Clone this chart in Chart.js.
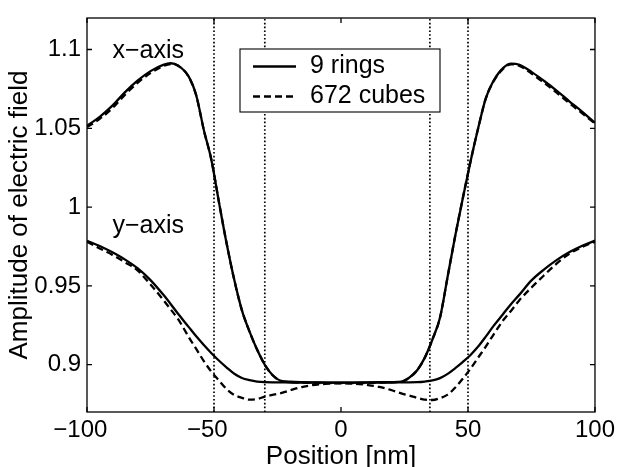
<!DOCTYPE html>
<html><head><meta charset="utf-8">
<script src="https://cdn.jsdelivr.net/npm/chart.js@4/dist/chart.umd.min.js"></script>
<style>html,body{margin:0;padding:0;background:#fff;}#wrap{width:621px;height:467px;}</style>
</head><body><div id="wrap"><canvas id="c" width="621" height="467"></canvas></div>
<script>
const positions = [-100,-95,-90,-85,-80,-75,-70,-67,-64,-60,-57,-54,-51,-48,-45,-42,-39,-36,-33,-30,-27,-24,-20,-15,-10,-5,0,5,10,15,20,24,27,30,33,36,39,42,45,48,51,54,57,60,64,67,70,75,80,85,90,95,100];
const xAxisRings = [1.0516,1.0573,1.0644,1.0730,1.0804,1.0863,1.0903,1.0913,1.0897,1.0830,1.0710,1.0490,1.0298,1.0027,0.9767,0.9537,0.9345,0.9210,0.9095,0.9000,0.8935,0.8900,0.8892,0.8889,0.8888,0.8887,0.8887,0.8887,0.8888,0.8889,0.8890,0.8893,0.8920,0.8965,0.9045,0.9160,0.9300,0.9560,0.9820,1.0060,1.0290,1.0500,1.0690,1.0800,1.0885,1.0910,1.0905,1.0858,1.0800,1.0738,1.0670,1.0605,1.0535];
const xAxisCubes = [1.0508,1.0560,1.0628,1.0714,1.0790,1.0850,1.0895,1.0908,1.0895,1.0828,1.0708,1.0488,1.0298,1.0027,0.9767,0.9537,0.9345,0.9210,0.9095,0.9000,0.8935,0.8900,0.8890,0.8886,0.8884,0.8883,0.8883,0.8883,0.8884,0.8886,0.8889,0.8893,0.8920,0.8965,0.9045,0.9160,0.9300,0.9560,0.9820,1.0060,1.0290,1.0500,1.0688,1.0796,1.0880,1.0906,1.0898,1.0848,1.0788,1.0725,1.0658,1.0595,1.0530];
const yAxisRings = [0.9787,0.9753,0.9713,0.9667,0.9611,0.9537,0.9445,0.9384,0.9320,0.9240,0.9180,0.9125,0.9073,0.9025,0.8982,0.8943,0.8916,0.8902,0.8893,0.8889,0.8888,0.8888,0.8887,0.8887,0.8887,0.8887,0.8887,0.8887,0.8887,0.8887,0.8887,0.8888,0.8888,0.8889,0.8893,0.8900,0.8915,0.8942,0.8978,0.9018,0.9062,0.9115,0.9178,0.9245,0.9325,0.9385,0.9440,0.9535,0.9605,0.9665,0.9715,0.9755,0.9787];
const yAxisCubes = [0.9780,0.9738,0.9697,0.9650,0.9597,0.9509,0.9412,0.9350,0.9286,0.9177,0.9100,0.9023,0.8955,0.8899,0.8845,0.8808,0.8790,0.8778,0.8782,0.8798,0.8808,0.8818,0.8838,0.8860,0.8873,0.8880,0.8882,0.8880,0.8872,0.8860,0.8838,0.8817,0.8804,0.8790,0.8778,0.8776,0.8788,0.8810,0.8855,0.8912,0.8975,0.9045,0.9115,0.9190,0.9285,0.9343,0.9405,0.9490,0.9568,0.9643,0.9705,0.9748,0.9780];
const boundaryPositions = [-50,-30,35,50];
const xTicks = [-100,-50,0,50,100];
const yTicks = [0.9,0.95,1,1.05,1.1];
const xRange = [-100,100];
const yRange = [0.87,1.12];
const seriesLabels = ['9 rings','672 cubes'];
const curveLabels = ['x−axis','y−axis'];
const curveLabelAnchors = [[-90,1.0948],[-90,0.9835]];

const FONT = "'Liberation Sans', Arial, Helvetica, sans-serif";
const pts = arr => positions.map((x,i)=>({x:x,y:arr[i]}));

const datasets = [];
boundaryPositions.forEach(p=>{
  datasets.push({label:'', data:[{x:p,y:yRange[0]},{x:p,y:yRange[1]}], borderColor:'#000', borderWidth:1.7, borderDash:[1.6,2.2], pointRadius:0, isBoundary:true});
});
const solid = {borderColor:'#000', borderWidth:2.3, pointRadius:0, cubicInterpolationMode:'monotone', fill:false};
const dashed = {borderColor:'#000', borderWidth:2.3, pointRadius:0, cubicInterpolationMode:'monotone', fill:false, borderDash:[7,4]};
datasets.push(Object.assign({label:seriesLabels[0], data:pts(xAxisRings)}, solid));
datasets.push(Object.assign({label:seriesLabels[1], data:pts(xAxisCubes)}, dashed));
datasets.push(Object.assign({label:seriesLabels[0], data:pts(yAxisRings)}, solid));
datasets.push(Object.assign({label:seriesLabels[1], data:pts(yAxisCubes)}, dashed));

const fmt = v => v < 0 ? '\u2212' + Math.abs(v) + '  ' : String(v);

const decor = {
  id:'decor',
  afterDatasetsDraw(chart){
    const {ctx, chartArea:a, scales:{x,y}} = chart;
    ctx.save();
    ctx.strokeStyle='#000'; ctx.lineWidth=1.3;
    ctx.strokeRect(a.left, a.top, a.right-a.left, a.bottom-a.top);
    const L=5;
    ctx.beginPath();
    xTicks.forEach(v=>{const p=x.getPixelForValue(v); ctx.moveTo(p,a.bottom); ctx.lineTo(p,a.bottom-L); ctx.moveTo(p,a.top); ctx.lineTo(p,a.top+L);});
    yTicks.forEach(v=>{const p=y.getPixelForValue(v); ctx.moveTo(a.left,p); ctx.lineTo(a.left+L,p); ctx.moveTo(a.right,p); ctx.lineTo(a.right-L,p);});
    ctx.stroke();
    ctx.fillStyle='#000'; ctx.font='25px '+FONT; ctx.textAlign='left'; ctx.textBaseline='alphabetic';
    curveLabels.forEach((t,i)=>{ctx.fillText(t, x.getPixelForValue(curveLabelAnchors[i][0]), y.getPixelForValue(curveLabelAnchors[i][1]));});
    const bx=a.left+153, by=a.top+31, bw=200, bh=63;
    ctx.fillStyle='#fff'; ctx.fillRect(bx,by,bw,bh);
    ctx.lineWidth=1.1; ctx.strokeStyle='#000'; ctx.strokeRect(bx,by,bw,bh);
    const entries=[chart.data.datasets.find(d=>d.label===seriesLabels[0]), chart.data.datasets.find(d=>d.label===seriesLabels[1])];
    const rows=[by+17.5, by+47.5];
    entries.forEach((d,i)=>{
      ctx.beginPath(); ctx.setLineDash(d.borderDash||[]); ctx.lineWidth=d.borderWidth; ctx.strokeStyle=d.borderColor;
      ctx.moveTo(bx+13,rows[i]); ctx.lineTo(bx+56,rows[i]); ctx.stroke();
      ctx.setLineDash([]);
      ctx.fillStyle='#000'; ctx.font='25px '+FONT; ctx.textBaseline='middle'; ctx.textAlign='left';
      ctx.fillText(d.label, bx+70, rows[i]);
    });
    ctx.restore();
  }
};

new Chart(document.getElementById('c'), {
  type:'line',
  data:{datasets:datasets},
  options:{
    responsive:false, animation:false, devicePixelRatio:1,
    layout:{padding:{left:0, top:8, right:23, bottom:0}},
    plugins:{legend:{display:false}, tooltip:{enabled:false}},
    scales:{
      x:{type:'linear', min:xRange[0], max:xRange[1],
        afterBuildTicks:s=>{s.ticks=xTicks.map(v=>({value:v}));},
        afterFit:s=>{s.height=55;},
        grid:{display:false, drawTicks:false}, border:{display:false},
        ticks:{autoSkip:false, maxRotation:0, minRotation:0, padding:6, color:'#000', font:{family:FONT,size:24,lineHeight:1}, callback:v=>fmt(v)},
        title:{display:true, text:'Position [nm]', color:'#000', font:{family:FONT,size:26,lineHeight:0.8}, padding:{top:0,bottom:0}}
      },
      y:{type:'linear', min:yRange[0], max:yRange[1],
        afterBuildTicks:s=>{s.ticks=yTicks.map(v=>({value:v}));},
        afterFit:s=>{s.width=87;},
        grid:{display:false, drawTicks:false}, border:{display:false},
        ticks:{autoSkip:false, padding:6, color:'#000', font:{family:FONT,size:24,lineHeight:1}, callback:v=>fmt(v)},
        title:{display:true, text:'Amplitude of electric field', color:'#000', font:{family:FONT,size:26,lineHeight:1}, padding:{top:7,bottom:0}}
      }
    }
  },
  plugins:[decor]
});
</script></body></html>
